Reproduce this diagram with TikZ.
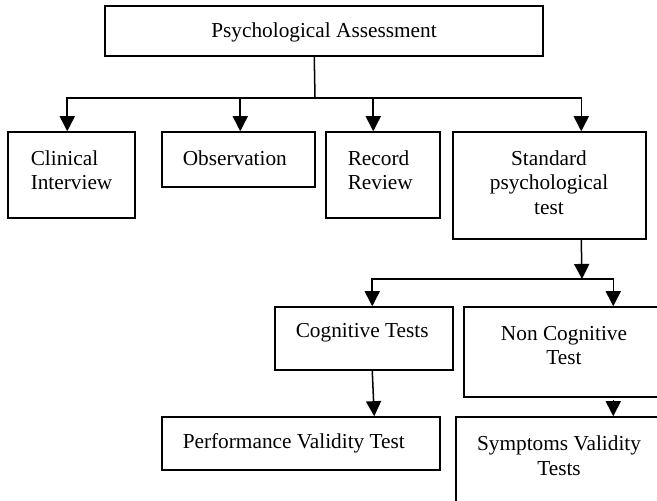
\documentclass[tikz,border=0pt]{standalone}
\usepackage{fontspec}
\setmainfont{Liberation Serif}
\usetikzlibrary{arrows.meta, fit}

\tikzset{
  box/.style={draw, line width=0.85pt, inner sep=0pt},
  txt/.style={inner sep=0pt, font=\fontsize{12}{13.8}\selectfont},
}

\begin{document}
\begin{tikzpicture}[x=0.5634pt, y=-0.5634pt, >={Triangle[width=8.5pt, length=8.5pt]}, line width=0.85pt]
    \useasboundingbox (0,0) rectangle (657,500);
    \clip (0,0) rectangle (657,500);

    % boxes
    \node[box, fit={(105,6) (543,56)}] (pa) {};
    \node[box, fit={(8,132) (135,218)}] (ci) {};
    \node[box, fit={(162,132) (315,187)}] (obs) {};
    \node[box, fit={(326,132) (440,218)}] (rr) {};
    \node[box, fit={(453,132) (646,239)}] (spt) {};
    \node[box, fit={(275,307) (453,370)}] (cog) {};
    \node[box, fit={(464,307) (664,397)}] (nct) {};
    \node[box, fit={(162,417) (440,470)}] (pvt) {};
    \node[box, fit={(456,417) (662,530)}] (svt) {};

    % texts
    \node[txt] (paText) at (324,32) {Psychological Assessment};
    \node[txt, anchor=west, align=left] (ciText) at (30,170) {Clinical\\Interview};
    \node[txt, anchor=west] (obsText) at (182,158) {Observation};
    \node[txt, anchor=west, align=left] (rrText) at (347,170) {Record\\Review};
    \node[txt, align=center] (sptText) at (549,182.5) {Standard\\psychological\\test};
    \node[txt, anchor=west] (cogText) at (295,333) {Cognitive Tests};
    \node[txt, align=center] (nctText) at (564,345.5) {Non Cognitive\\Test};
    \node[txt, anchor=west] (pvtText) at (182,443) {Performance Validity Test};
    \node[txt, align=center] (svtText) at (559,455.5) {Symptoms Validity\\Tests};

    % first level
    \coordinate (j1) at (315,98);
    \draw ([shift={(210,0)}]pa.south west) -- (j1);
    \draw[->] (j1) -| ([shift={(60,0)}]ci.north west);
    \draw[->] (j1) -| ([shift={(79,0)}]obs.north west);
    \draw[->] (j1) -| ([shift={(48,0)}]rr.north west);
    \draw[->] (j1) -| ([shift={(129,0)}]spt.north west);

    % second level
    \coordinate (j2) at (582,279);
    \draw[->] ([shift={(129,0)}]spt.south west) -- (j2);
    \draw[->] (j2) -| ([shift={(98,0)}]cog.north west);
    \draw[->] (j2) -| ([shift={(150,0)}]nct.north west);

    % third level
    \draw[->] ([shift={(98,0)}]cog.south west) -- ([shift={(213,0)}]pvt.north west);
    \draw[->] ([shift={(150,2)}]nct.south west) -- ([shift={(158,0)}]svt.north west);
\end{tikzpicture}
\end{document}
